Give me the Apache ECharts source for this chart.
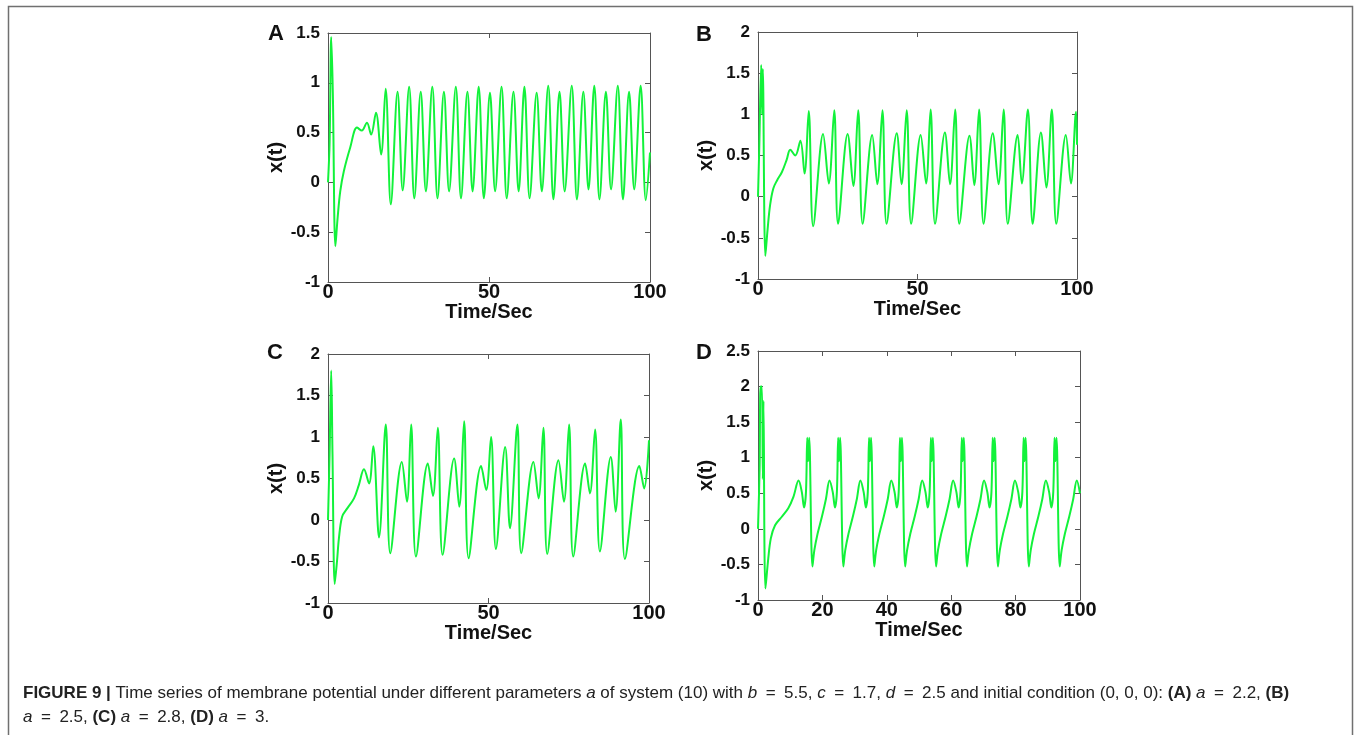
<!DOCTYPE html>
<html>
<head>
<meta charset="utf-8">
<script src="https://cdn.jsdelivr.net/npm/echarts@6/dist/echarts.min.js"></script>
<style>
  html, body { margin: 0; padding: 0; background: #fff; }
  #chart { width: 1356px; height: 735px; }
</style>
</head>
<body>
<div id="chart"></div>
<script>
// panel A: a = 2.2
const tA = [0,0.5,1.0,1.5,2.3,3.0,3.8,4.9,6.9,9.0,10.5,12.1,13.4,14.9,16.5,
  17.9,19.5,21.6,23.2,25.2,26.8,28.8,30.4,32.4,34.0,36.0,37.6,39.7,41.3,43.3,44.9,46.8,48.4,
  50.3,51.9,53.9,55.5,57.6,59.2,61.0,62.6,64.8,66.4,68.4,70.0,71.9,73.5,75.7,77.3,79.3,80.9,
  82.7,84.3,86.3,87.9,90.0,91.6,93.5,95.1,97.1,98.7,100];
const xA = [0,0.4,1.46,0.9,-0.64,-0.35,-0.09,0.11,0.35,0.55,0.52,0.60,0.48,0.70,0.28,
  0.94,-0.22,0.91,-0.08,0.96,-0.16,0.91,-0.09,0.96,-0.16,0.91,-0.09,0.96,-0.16,0.91,-0.09,0.96,-0.16,
  0.90,-0.09,0.96,-0.16,0.91,-0.09,0.96,-0.16,0.90,-0.09,0.97,-0.17,0.91,-0.09,0.97,-0.17,0.91,-0.07,
  0.97,-0.17,0.91,-0.07,0.97,-0.17,0.91,-0.07,0.97,-0.18,0.3];

// panel B: a = 2.5
const tB = [0,0.4,1.0,1.3,1.5,2.3,3.0,3.8,4.8,6.0,7.5,9.0,10.1,11.7,13.3,14.6,
  15.9,17.3,20.4,22.2,23.9,25.1,28.1,29.9,31.4,32.8,35.8,37.4,39.0,40.3,43.5,45.0,
  46.6,48.0,51.0,52.7,54.1,55.5,58.6,60.2,61.8,63.1,66.3,67.8,69.3,70.7,73.6,75.4,
  77.0,78.3,81.4,82.7,84.6,86.1,88.7,90.4,92.1,93.5,96.5,98.1,99.7,100];
const xB = [0,0.6,1.6,1.0,1.55,-0.72,-0.4,-0.1,0.1,0.2,0.3,0.45,0.57,0.50,0.68,0.28,
  1.04,-0.36,0.76,0.16,1.05,-0.33,0.76,0.13,1.05,-0.33,0.75,0.15,1.05,-0.33,0.77,0.15,
  1.05,-0.33,0.75,0.16,1.06,-0.33,0.78,0.15,1.06,-0.33,0.74,0.14,1.06,-0.33,0.77,0.15,
  1.06,-0.33,0.75,0.16,1.06,-0.33,0.78,0.11,1.06,-0.33,0.75,0.16,1.03,0.63];

// panel C: a = 2.8
const tC = [0,0.5,1.0,1.4,2.1,2.8,3.4,4.4,6.0,8.1,9.6,11.2,12.8,14.1,15.9,18.0,19.4,
  23.0,24.6,25.9,27.4,31.1,32.7,34.2,35.7,39.3,40.9,42.4,43.8,47.7,49.3,50.8,52.3,
  55.2,56.7,59.0,60.2,64.0,65.6,67.1,68.3,71.8,73.5,75.1,76.4,80.1,81.6,83.2,84.7,
  88.1,89.6,91.2,92.5,97.0,98.5,100];
const xC = [0,0.8,1.8,0.8,-0.77,-0.5,-0.22,0.04,0.14,0.26,0.42,0.61,0.44,0.89,-0.21,1.15,-0.40,
  0.70,0.22,1.15,-0.44,0.68,0.29,1.11,-0.42,0.74,0.16,1.19,-0.46,0.65,0.36,1.0,-0.35,
  0.88,-0.10,1.15,-0.40,0.70,0.26,1.11,-0.41,0.72,0.22,1.15,-0.44,0.68,0.32,1.09,-0.38,
  0.76,0.10,1.21,-0.47,0.65,0.38,0.96];

// panel D: a = 3
const tD = [0,0.5,0.8,1.2,1.5,1.7,2.3,3.2,4.0,5.3,7.4,9.4,11.0,
  12.6,13.6,14.3,14.9,15.3,15.6,15.9,16.9,17.5,18.5,19.9,21.1,
  22.2,23.2,23.9,24.5,24.9,25.2,25.5,26.5,27.1,28.1,29.5,30.7,
  31.8,32.8,33.5,34.1,34.5,34.8,35.1,36.1,36.7,37.7,39.1,40.3,
  41.4,42.4,43.1,43.7,44.1,44.4,44.7,45.7,46.3,47.3,48.7,49.9,
  51.0,52.0,52.7,53.3,53.7,54.0,54.3,55.3,55.9,56.9,58.3,59.5,
  60.6,61.6,62.3,62.9,63.3,63.6,63.9,64.9,65.5,66.5,67.9,69.1,
  70.2,71.2,71.9,72.5,72.9,73.2,73.5,74.5,75.1,76.1,77.5,78.7,
  79.8,80.8,81.5,82.1,82.5,82.8,83.1,84.1,84.7,85.7,87.1,88.3,
  89.4,90.4,91.1,91.7,92.1,92.4,92.7,93.7,94.3,95.3,96.7,97.9,
  99.0,100];
const xD = [0,0.85,2.0,2.0,0.7,1.8,-0.84,-0.41,-0.13,0.05,0.17,0.29,0.45,
  0.68,0.52,0.30,0.52,1.28,0.95,1.28,-0.53,-0.30,-0.07,0.18,0.42,
  0.68,0.52,0.30,0.52,1.28,0.95,1.28,-0.53,-0.30,-0.07,0.18,0.42,
  0.68,0.52,0.30,0.52,1.28,0.95,1.28,-0.53,-0.30,-0.07,0.18,0.42,
  0.68,0.52,0.30,0.52,1.28,0.95,1.28,-0.53,-0.30,-0.07,0.18,0.42,
  0.68,0.52,0.30,0.52,1.28,0.95,1.28,-0.53,-0.30,-0.07,0.18,0.42,
  0.68,0.52,0.30,0.52,1.28,0.95,1.28,-0.53,-0.30,-0.07,0.18,0.42,
  0.68,0.52,0.30,0.52,1.28,0.95,1.28,-0.53,-0.30,-0.07,0.18,0.42,
  0.68,0.52,0.30,0.52,1.28,0.95,1.28,-0.53,-0.30,-0.07,0.18,0.42,
  0.68,0.52,0.30,0.52,1.28,0.95,1.28,-0.53,-0.30,-0.07,0.18,0.42,
  0.68,0.5];

const panelLetters = ["A", "B", "C", "D"];
const yRanges = [[-1, 1.5], [-1, 2], [-1, 2], [-1, 2.5]];
const xIntervals = [50, 50, 50, 20];

var lineColor = "#12f23a";
var fontFam = "'Liberation Sans', Arial, sans-serif";

// box position of each panel (px)
var boxes = [
  { left: 328, top: 33, width: 322, height: 249 },
  { left: 758, top: 32, width: 319, height: 247 },
  { left: 328, top: 354, width: 321, height: 249 },
  { left: 758, top: 351, width: 322, height: 249 },
];
var letterPos = [[276, 34], [704, 35], [275, 353], [704, 353]];

function zip(ts, xs) {
  return ts.map(function (t, i) { return [t, xs[i]]; });
}
var allData = [zip(tA, xA), zip(tB, xB), zip(tC, xC), zip(tD, xD)];

var grid = [], xAxis = [], yAxis = [], series = [], graphic = [];
boxes.forEach(function (b, i) {
  grid.push({ left: b.left, top: b.top, width: b.width, height: b.height, show: false });
  var axLine = { show: true, onZero: false, lineStyle: { color: "#555", width: 1 } };
  var tick = { show: true, inside: true, length: 5, lineStyle: { color: "#555" } };
  // bottom x axis with labels
  xAxis.push({
    type: "value", gridIndex: i, min: 0, max: 100, interval: xIntervals[i],
    position: "bottom", axisLine: axLine, axisTick: tick, splitLine: { show: false },
    axisLabel: { color: "#111", fontWeight: "bold", fontSize: 20, fontFamily: fontFam, margin: 0 },
    name: "Time/Sec", nameLocation: "middle", nameGap: 18,
    nameTextStyle: { color: "#111", fontWeight: "bold", fontSize: 20, fontFamily: fontFam, verticalAlign: "top" },
  });
  // top mirror
  xAxis.push({
    type: "value", gridIndex: i, min: 0, max: 100, interval: xIntervals[i],
    position: "top", axisLine: axLine, axisTick: tick, splitLine: { show: false },
    axisLabel: { show: false },
  });
  yAxis.push({
    type: "value", gridIndex: i, min: yRanges[i][0], max: yRanges[i][1], interval: 0.5,
    position: "left", axisLine: axLine, axisTick: tick, splitLine: { show: false },
    axisLabel: { color: "#111", fontWeight: "bold", fontSize: 17, fontFamily: fontFam, margin: 8 },
    name: "x(t)", nameLocation: "middle", nameGap: 40, nameRotate: 90,
    nameTextStyle: { color: "#111", fontWeight: "bold", fontSize: 20, fontFamily: fontFam },
  });
  yAxis.push({
    type: "value", gridIndex: i, min: yRanges[i][0], max: yRanges[i][1], interval: 0.5,
    position: "right", axisLine: axLine, axisTick: tick, splitLine: { show: false },
    axisLabel: { show: false },
  });
  series.push({
    type: "line", xAxisIndex: i * 2, yAxisIndex: i * 2, data: allData[i],
    showSymbol: false, smooth: 0.35, clip: true,
    lineStyle: { color: lineColor, width: 2 },
  });
  graphic.push({
    type: "text", x: letterPos[i][0], y: letterPos[i][1],
    style: { text: panelLetters[i], fill: "#111", font: "bold 22px " + fontFam, align: "center", verticalAlign: "middle" },
  });
});

// outer frame (open at the bottom)
graphic.push({
  type: "polyline",
  shape: { points: [[8.5, 735], [8.5, 6.5], [1352.5, 6.5], [1352.5, 735]] },
  style: { stroke: "#707070", lineWidth: 1.5, fill: null },
});

var capRich = {
  b: { fontWeight: "bold", fontSize: 17, fontFamily: fontFam, fill: "#222" },
  i: { fontStyle: "italic", fontSize: 17, fontFamily: fontFam, fill: "#222" },
  n: { fontSize: 17, fontFamily: fontFam, fill: "#222" },
};
var eq = "\u2002=\u2002";
graphic.push({
  type: "text", x: 23, y: 693,
  style: {
    text: "{b|FIGURE 9 |}{n| Time series of membrane potential under different parameters }{i|a}{n| of system (10) with }{i|b}{n|" + eq + "5.5, }{i|c}{n|" + eq + "1.7, }{i|d}{n|" + eq + "2.5 and initial condition (0, 0, 0): }{b|(A)}{n| }{i|a}{n|" + eq + "2.2, }{b|(B)}",
    rich: capRich, verticalAlign: "middle",
  },
});
graphic.push({
  type: "text", x: 23, y: 717,
  style: {
    text: "{i|a}{n|" + eq + "2.5, }{b|(C)}{n| }{i|a}{n|" + eq + "2.8, }{b|(D)}{n| }{i|a}{n|" + eq + "3.}",
    rich: capRich, verticalAlign: "middle",
  },
});

var chart = echarts.init(document.getElementById("chart"));
chart.setOption({
  animation: false,
  backgroundColor: "#fff",
  grid: grid,
  xAxis: xAxis,
  yAxis: yAxis,
  series: series,
  graphic: graphic,
});
</script>
</body>
</html>
